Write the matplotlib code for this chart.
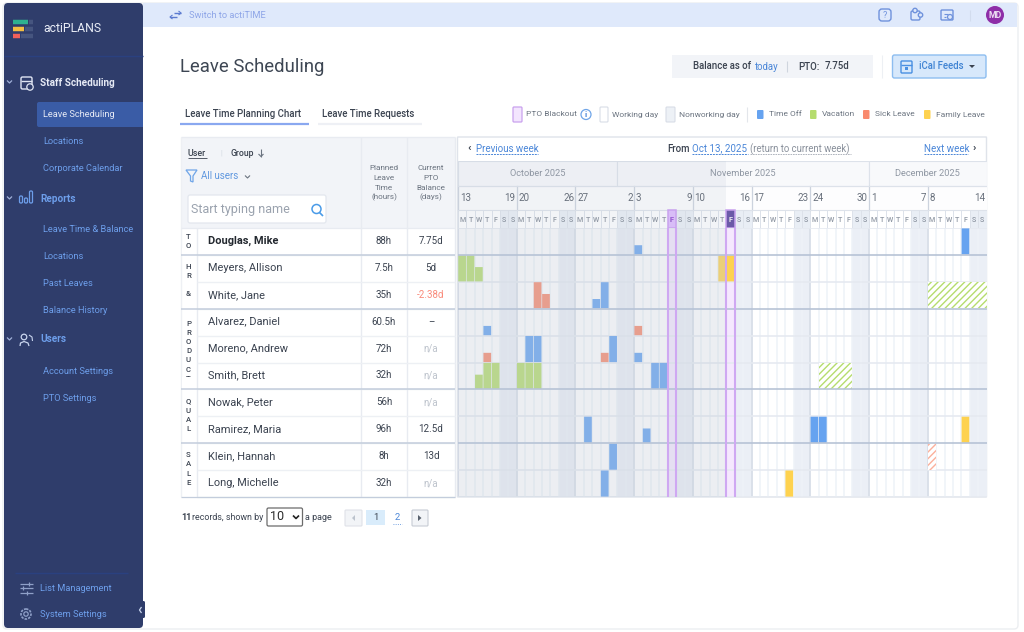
import matplotlib
matplotlib.use('Agg')
import matplotlib.pyplot as plt
from matplotlib.patches import Rectangle, FancyBboxPatch, Circle, Polygon

plt.rcParams['font.family'] = ['Roboto', 'DejaVu Sans']
plt.rcParams['hatch.linewidth'] = 1.0

# Table data
employees = ['Douglas, Mike', 'Meyers, Allison', 'White, Jane', 'Alvarez, Daniel', 'Moreno, Andrew',
             'Smith, Brett', 'Nowak, Peter', 'Ramirez, Maria', 'Klein, Hannah', 'Long, Michelle']
planned = ['88h', '7.5h', '35h', '60.5h', '72h', '32h', '56h', '96h', '8h', '32h']
balance = ['7.75d', '5d', '-2.38d', '–', 'n/a', 'n/a', 'n/a', '12.5d', '13d', 'n/a']
groups = ['TO', 'HR &', 'PRODUCT', 'QUAL', 'SALE']
group_sizes = [1, 2, 3, 2, 2]

# Calendar labels, the chart starts on Monday Oct 13 2025
months = ['October 2025', 'November 2025', 'December 2025']
month_days = [19, 30, 14]
week_starts = [13, 20, 27, 3, 10, 17, 24, 1, 8]
week_ends = [19, 26, 2, 9, 16, 23, 30, 7, 14]
weekday_letters = list('MTWTFSS') * 9
blackout_days = [25, 32]
today = 32

# Leave records: (row, day from Oct 13, hours)
time_off = [(0, 21, 3), (0, 60, 8), (2, 16, 3), (2, 17, 8), (3, 3, 3), (4, 8, 8), (4, 9, 8),
            (4, 18, 8), (4, 21, 3), (5, 23, 8), (5, 24, 8), (7, 15, 8), (7, 22, 4.5),
            (7, 42, 8), (7, 43, 8), (8, 18, 8), (9, 17, 8)]
vacation = [(1, 0, 8), (1, 1, 8), (1, 2, 4.5), (5, 2, 4.5), (5, 3, 8), (5, 4, 8),
            (5, 7, 8), (5, 8, 8), (5, 9, 8)]
sick_leave = [(2, 9, 8), (2, 10, 4.5), (3, 21, 3), (4, 3, 3), (4, 17, 3)]
family_leave = [(1, 31, 8), (1, 32, 8), (7, 60, 8), (9, 39, 8)]
# planned (not yet approved) leave, drawn hatched
vacation_planned = [(2, d, 8) for d in [56, 57, 58, 59, 60, 61, 62]] + [(5, d, 8) for d in [43, 44, 45, 46]]
sick_planned = [(8, 56, 8)]

BLUE = '#66a3f0'
GREEN = '#b5dc6e'
RED = '#f98a6e'
YELLOW = '#fed24f'
INK = '#3b4350'
GREY = '#6b7480'
LINK = '#4a86d8'
NAV = '#6d9eea'

W, H = 1024, 632
fig = plt.figure(figsize=(W / 100, H / 100), dpi=100, facecolor='white')


def px_axes(x0, y0, x1, y1, zorder):
    a = fig.add_axes([x0 / W, 1 - y1 / H, (x1 - x0) / W, (y1 - y0) / H], zorder=zorder)
    a.axis('off')
    return a


ui = px_axes(0, 0, W, H, 1)
ui.set_xlim(0, W)
ui.set_ylim(H, 0)


def txt(x, y, s, size=7, color=INK, weight='normal', ha='left', **kw):
    # baseline sits a bit high with va=center, push everything down one pixel
    return ui.text(x, y + 1, s, fontsize=size, color=color, fontweight=weight, ha=ha, va='center', **kw)


def box(x0, y0, x1, y1, color, ec='none', lw=0, z=1):
    ui.add_patch(Rectangle((x0, y0), x1 - x0, y1 - y0, fc=color, ec=ec, lw=lw, zorder=z))


def rbox(x0, y0, x1, y1, color, ec='none', lw=0, r=2, z=1):
    ui.add_patch(FancyBboxPatch((x0 + r, y0 + r), x1 - x0 - 2 * r, y1 - y0 - 2 * r,
                                boxstyle=f'round,pad={r}', fc=color, ec=ec, lw=lw, zorder=z))


def line(xs, ys, color, lw=1.0, ls='-', z=2):
    ui.plot(xs, ys, color=color, lw=lw, ls=ls, zorder=z, solid_capstyle='butt')


# Window frame, sidebar and top bar
rbox(3, 3, 1018, 629, 'white', ec='#eceef1', lw=1, r=4, z=0)
rbox(4, 3, 143, 628, '#2f3d6b', r=4)
box(143, 3, 1017, 27, '#dfe9fb')

# Logo
for y, c, w in [(22, '#2fb290', 15), (29, '#f5bf42', 11), (36, '#f2605a', 7)]:
    line([14 + w, 33], [y, y], '#46557f', lw=3.2)
    line([13, 13 + w], [y, y], c, lw=3.2)
txt(43, 28, 'actiPLANS', 8.8, '#e8ecf6')
line([4, 143], [56, 56], '#2a4180', 1)

# Sidebar sections
rbox(37, 102, 150, 127, '#3a5ca6', r=2)
box(143, 27, 150, 140, 'white', z=1)
for x, y, s, c in [(40, 82, 'Staff Scheduling', '#e6eaf5'), (40, 198, 'Reports', NAV), (40, 339, 'Users', NAV)]:
    txt(x, y - 0.5, s, 7.2, c, 'bold')
    line([7, 9.5, 12], [y - 1.5, y + 1, y - 1.5], '#9fb0d8', 0.9)
sub_items = ['Leave Scheduling', 'Locations', 'Corporate Calendar', 'Leave Time & Balance', 'Locations',
             'Past Leaves', 'Balance History', 'Account Settings', 'PTO Settings']
sub_y = [114, 141, 168, 229, 256, 283, 310, 371, 398]
for i, (s, y) in enumerate(zip(sub_items, sub_y)):
    txt(43, y - 0.5, s, 6.7, '#e6eaf5' if i == 0 else NAV)

# Sidebar icons
rbox(21, 77, 32, 89, 'none', ec='#dfe5f3', lw=1, r=1.5, z=3)
line([21, 32], [81, 81], '#dfe5f3', 1, z=3)
ui.add_patch(Circle((30, 87), 3.2, fc='#2f3d6b', ec='#dfe5f3', lw=0.9, zorder=4))
for x, y0 in [(21, 196), (26, 198), (31, 191)]:
    rbox(x - 1.5, y0, x + 1.5, 203, 'none', ec=NAV, lw=0.9, r=1.2, z=3)
ui.add_patch(Circle((24, 337), 2.8, fc='none', ec='#c9d5ee', lw=0.9, zorder=3))
line([20, 20.5, 24, 28, 29], [346, 343, 341.5, 343, 346], '#c9d5ee', 0.9, z=3)
line([29, 32, 32.5], [335, 337, 341], '#c9d5ee', 0.8, z=3)
line([15, 128], [573, 573], '#2a4180', 1)
txt(40, 587.5, 'List Management', 6.7, NAV)
txt(40, 613.5, 'System Settings', 6.7, NAV)
for y, k in [(584, 29), (588, 23), (593, 27)]:
    line([20, 33], [y, y], '#8fa0c8', 0.9)
    line([k, k], [y - 2, y + 2], '#8fa0c8', 0.9)
ui.add_patch(Circle((26, 614), 5, fc='none', ec='#8fa0c8', lw=1.2, ls=(0, (1.5, 0.7)), zorder=3))
ui.add_patch(Circle((26, 614), 2.2, fc='none', ec='#8fa0c8', lw=0.9, zorder=3))
rbox(135, 601, 145, 618, '#2f3d6b', r=1.5, z=3)
line([141.5, 139.5, 141.5], [607, 610, 613], '#c9d5ee', 0.9, z=4)

# Top bar contents
txt(189, 14, 'Switch to actiTIME', 6.7, '#8fa6e8')
line([174, 181], [13, 13], '#5c7bd0', 1)
line([170, 177], [17, 17], '#5c7bd0', 1)
line([178.5, 181, 178.5], [11, 13, 15], '#5c7bd0', 0.8)
line([172.5, 170, 172.5], [15, 17, 19], '#5c7bd0', 0.8)
rbox(879, 9, 891, 21, 'none', ec='#6f92dc', lw=1, r=3, z=3)
txt(885, 14, '?', 6.5, '#6f92dc', ha='center', zorder=4)
# puzzle piece
rbox(911, 11, 920, 20, 'none', ec='#6f92dc', lw=1, r=1.5, z=3)
ui.add_patch(Circle((915, 10.5), 2.2, fc='#dfe9fb', ec='#6f92dc', lw=1, zorder=4))
ui.add_patch(Circle((920.5, 15), 2.2, fc='#dfe9fb', ec='#6f92dc', lw=1, zorder=4))
rbox(941, 10, 953, 20, 'none', ec='#6f92dc', lw=1, r=1, z=3)
line([943.5, 948], [13.5, 13.5], '#6f92dc', 0.8, z=3)
line([943.5, 946], [16.5, 16.5], '#6f92dc', 0.8, z=3)
ui.add_patch(Circle((950, 17), 2.5, fc='#dfe9fb', ec='#6f92dc', lw=0.9, zorder=4))
line([970, 970], [10, 21], '#d2dcee', 0.8)
ui.add_patch(Circle((995, 15), 9, fc='#8e2ea8', zorder=3))
txt(995, 14, 'MD', 6.3, '#ecdcf2', 'bold', ha='center', zorder=4)

# Page title and balance
txt(180, 66, 'Leave Scheduling', 13.3, '#3d4653')
box(672, 55, 873, 78, '#f2f4f8')
txt(693, 65, 'Balance as of', 6.9, INK, 'medium', zorder=3)
txt(755, 66, 'today', 6.9, LINK, zorder=3)
line([787, 787], [61, 72], '#cfd5de', 0.8, z=3)
txt(798, 66, 'PTO:', 6.9, INK, 'medium', zorder=3)
txt(825, 65, '7.75d', 6.9, INK, 'medium', zorder=3)
line([882, 882], [55, 78], '#edf0f4', 0.8)
rbox(892.5, 55, 986, 78, '#d7e8fb', ec='#8dbdf0', lw=1, r=2)
rbox(901, 61, 912, 73, 'none', ec='#4a90e2', lw=1, r=1, z=3)
line([901, 912], [64.5, 64.5], '#4a90e2', 1, z=3)
box(905, 67, 908, 70, '#4a90e2', z=3)
txt(919, 65, 'iCal Feeds', 6.9, '#3f83d3', 'medium', zorder=3)
ui.add_patch(Polygon([[969, 65], [975, 65], [972, 68]], fc=INK, zorder=3))

# Tabs
txt(185, 113, 'Leave Time Planning Chart', 6.9, INK, 'medium')
line([180, 309], [124, 124], '#8aa8f0', 1.6)
txt(322, 113, 'Leave Time Requests', 6.9, INK, 'medium')
line([318, 422], [124, 124], '#eef0f5', 1.6)

# Legend
rbox(513, 107, 522, 122, '#f3e5fe', ec='#c9a2ee', lw=0.9, r=1)
txt(526, 113.5, 'PTO Blackout', 6, GREY)
ui.add_patch(Circle((586, 114.5), 5, fc='white', ec='#6fa5e8', lw=0.9, zorder=3))
txt(586, 113.5, 'i', 6, '#4a86d8', 'bold', ha='center', zorder=4)
rbox(600, 107, 608, 122, 'white', ec='#d8dde6', lw=0.8, r=1)
txt(612, 113.5, 'Working day', 6, GREY)
rbox(666, 107, 675, 122, '#edf1f6', ec='#d8dde6', lw=0.8, r=1)
txt(679, 113.5, 'Nonworking day', 6, GREY)
line([747, 747], [107, 122], '#e3e6eb', 0.8)
for x, c, s in [(757, BLUE, 'Time Off'), (810, GREEN, 'Vacation'), (863, RED, 'Sick Leave'), (924, YELLOW, 'Family Leave')]:
    rbox(x, 110, x + 6.5, 119, c, r=1)
    txt(x + 12, 113.5, s, 6, GREY)

# Left table
box(181, 137, 455, 228, '#f2f4f8')
box(181, 228, 455, 497, 'white')
line([181, 455], [137, 137], '#e8ebf1', 1)
for x in [361, 407]:
    line([x, x], [137, 497], '#e8ebf1', 1)
line([196.5, 196.5], [228, 497], '#e8ebf1', 1)
line([455, 455], [137, 497], '#e8ebf1', 1)
line([181, 181], [137, 497], '#eef0f4', 1)
txt(188, 152, 'User', 6.4, INK, 'medium')
line([188, 207], [158, 158], INK, 0.6)
txt(220, 152, '|', 5.5, '#cfd5de')
txt(230.5, 152, 'Group', 6.2, INK, 'medium')
line([261, 261], [149, 156.5], GREY, 0.8)
line([258.5, 261, 263.5], [154, 156.5, 154], GREY, 0.8)
ui.add_patch(Polygon([[186, 170], [197, 170], [193, 176], [193, 182], [190.5, 181], [190.5, 176]],
                     fc='none', ec='#6fa5e8', lw=0.9, zorder=3))
txt(201, 175, 'All users', 7, '#5f97df')
line([245, 247.5, 250], [175.5, 178, 175.5], GREY, 0.8)
rbox(188, 195, 326, 223, 'white', ec='#e3e7ee', lw=0.9, r=2)
txt(191, 208.5, 'Start typing name', 9, '#9aa2ae', zorder=3)
ui.add_patch(Circle((316.5, 209), 4.5, fc='none', ec='#4a9be8', lw=1.1, zorder=3))
line([319.5, 323], [212.5, 216], '#4a9be8', 1.2, z=3)
for x, words in [(384, ['Planned', 'Leave', 'Time', '(hours)']), (431, ['Current', 'PTO', 'Balance', '(days)'])]:
    for k, w in enumerate(words):
        txt(x, 166.5 + k * 10, w, 5.9, GREY, ha='center')

row_h = 26.9
row_lines = [228 + row_h * i for i in range(11)]
for i, name in enumerate(employees):
    ym = row_lines[i] + row_h / 2 - 1.5
    txt(208, ym, name, 7.9, '#23282f' if i == 0 else INK, 'bold' if i == 0 else 'normal')
    txt(384, ym, planned[i], 7, INK, ha='center')
    b = balance[i]
    c = '#f98a7a' if b.startswith('-') else ('#bdc3cc' if b == 'n/a' else INK)
    txt(431, ym, b, 7, c, ha='center')
    line([197, 455], [row_lines[i + 1]] * 2, '#edf0f4', 1)

# Group column, the letters stand one under another and get cut off at the row end
row = 0
for g, n in zip(groups, group_sizes):
    y_top = row_lines[row]
    y_end = row_lines[row + n]
    y0 = y_top + (8 if n == 1 else 11 if n == 2 else 14)
    for k, ch in enumerate(g):
        txt(188.5, y0 + k * 9.2, ch, 5.6, INK, 'medium', ha='center')
    if n == 1:
        box(182, y_end - 7, 196, y_end - 0.5, 'white', z=4)
    if n == 3:
        box(182, y_end - 12, 196, y_end - 0.5, 'white', z=4)
    row += n
for i in [0, 1, 3, 6, 8, 10]:
    col = '#c3cddc' if i else '#e8ebf1'
    line([181, 455], [row_lines[i]] * 2, col, 1.1 if i not in (0, 10) else 0.9, z=5)

# Pager
txt(181, 516, '11', 6.5, INK, 'bold')
txt(192, 516, 'records, shown by', 6.4, INK)
rbox(267, 508, 302.5, 526, 'white', ec='#6b6b6b', lw=0.9, r=1.5)
txt(270, 516, '10', 9, '#2b2b2b', zorder=3)
line([293, 296, 299], [515.5, 518.5, 515.5], '#222222', 1.2, z=3)
txt(305, 516, 'a page', 6.5, INK)
rbox(345, 510, 362, 526, '#f2f4f7', ec='#dfe2e8', lw=0.8, r=1)
ui.add_patch(Polygon([[355, 515], [355, 521], [352, 518]], fc='#bcc3cd', zorder=3))
box(366, 510, 385, 525, '#d9ecfb')
txt(375.5, 516.5, '1', 6.8, INK, ha='center', zorder=3)
txt(397.5, 516.5, '2', 6.8, LINK, ha='center')
line([393, 402], [523.5, 523.5], LINK, 0.6, ls=':')
rbox(412, 510, 428, 526, '#f2f4f7', ec='#c7ccd4', lw=0.8, r=1)
ui.add_patch(Polygon([[418, 515], [418, 521], [421.5, 518]], fc='#59616d', zorder=3))

# Week navigation row
box(458, 137, 987, 161, 'white')
txt(467, 147.5, '‹', 8, INK, 'bold')
txt(476, 147.5, 'Previous week', 7, LINK)
line([476, 538], [154, 154], LINK, 0.7, ls=(0, (2, 1)))
txt(667, 148, 'From', 6.9, INK, 'medium')
txt(692, 147.5, 'Oct 13, 2025', 7, LINK)
line([692, 748], [154, 154], LINK, 0.7, ls=(0, (2, 1)))
txt(750, 148, '(return to current week)', 6.9, '#8a919c')
line([750, 851], [154, 154], '#a5abb5', 0.6, ls=(0, (2, 1)))
txt(923.5, 147.5, 'Next week', 7, LINK)
line([923.5, 968], [154, 154], LINK, 0.7, ls=(0, (2, 1)))
txt(973, 147.5, '›', 8, INK, 'bold')
rbox(457.5, 137, 986.5, 497, 'none', ec='#dfe3ea', lw=1, r=0.5, z=8)

# Calendar header, same day scale as the chart below it
n_days = len(weekday_letters)
hdr_bottom = 2.73
hdr = px_axes(458, 161, 986.5, 228, 2)
hdr.set_xlim(0, n_days)
hdr.set_ylim(hdr_bottom, 0)
hdr.margins(0)
for d, letter in enumerate(weekday_letters):
    weekend = letter == 'S'
    hdr.bar(d, hdr_bottom - 2, width=1, bottom=2, align='edge', color='#e9eef5' if weekend else 'white', ec='#dde2ea', lw=0.7, zorder=1)
    hdr.text(d + 0.5, 2.4, letter, fontsize=5.1, color='#8f97a3', ha='center', va='center', fontweight='medium', zorder=6)
hdr.bar(0, 1, width=n_days, bottom=1, align='edge', color='#fdfdfe', zorder=1)
start = 0
for m, nd in zip(months, month_days):
    hdr.bar(start, 1, width=nd, bottom=0, align='edge', color='#f8f9fb', ec='#dde2ea', lw=0.8, zorder=1)
    hdr.text(start + nd / 2, 0.5, m, fontsize=6.7, color='#8f97a3', ha='center', va='center', zorder=6)
    start += nd
for w, (a, b) in enumerate(zip(week_starts, week_ends)):
    x = w * 7
    hdr.plot([x, x], [1, 2], color='#ccd3de', lw=0.9, zorder=2)
    hdr.text(x + 0.2, 1.52, str(a), fontsize=7, color='#68707c', ha='left', va='center', zorder=6)
    hdr.text(x + 6.85, 1.52, str(b), fontsize=7, color='#68707c', ha='right', va='center', zorder=6)
hdr.plot([0, n_days], [1, 1], color='#dde2ea', lw=0.8, zorder=2)
hdr.plot([0, n_days], [2, 2], color='#dde2ea', lw=0.8, zorder=2)
hdr.bar(0, hdr_bottom, width=today, bottom=0, align='edge', color='#c2cbd8', alpha=0.2, zorder=4)
for d in blackout_days:
    hdr.bar(d, hdr_bottom - 2, width=1, bottom=2, align='edge', color='#d8bdf7' if d < today else '#6b5aa8', ec='#c9a2ee', lw=1.1, zorder=5)
    hdr.text(d + 0.5, 2.4, 'F', fontsize=5.1, color='#a35fe0' if d < today else '#e8e4f4', ha='center', va='center', fontweight='bold', zorder=7)

# Chart body, one unit on the y axis is one working day of 8 hours
n_rows = len(employees)
ax = px_axes(458, 228, 986.5, 497, 3)
ax.set_xlim(0, n_days)
ax.set_ylim(n_rows, 0)
for d, letter in enumerate(weekday_letters):
    if letter == 'S':
        ax.bar(d, n_rows, width=1, bottom=0, align='edge', color='#ebeff6', zorder=1)
for d in range(n_days):
    ax.plot([d, d], [0, n_rows], color='#eef2f8', lw=1.1, zorder=2)
for d in blackout_days:
    ax.bar(d, n_rows, width=1, bottom=0, align='edge', color='#f5e8fe', zorder=2)
for w in range(9):
    ax.plot([w * 7, w * 7], [0, n_rows], color='#d5dbe6', lw=1.1, zorder=2)
for r in range(n_rows + 1):
    if r in (1, 3, 6, 8):
        ax.plot([0, n_days], [r, r], color='#b7c3d6', lw=1.2, zorder=6)
    else:
        ax.plot([0, n_days], [r, r], color='#e6eaf1', lw=1.2, zorder=2)


def draw_leave(records, color):
    for r, d, hours in records:
        bars = ax.bar(d + 0.03, hours / 8 - 0.03, width=0.92, bottom=r + 1 - hours / 8 + 0.015, align='edge', color=color, lw=0, zorder=4)
        for b in bars:
            b.set_snap(False)


def draw_planned(records, color):
    for r, d, hours in records:
        ax.bar(d, hours / 8 - 0.03, width=1, bottom=r + 1 - hours / 8 + 0.015, align='edge', facecolor='white',
               edgecolor=color, hatch='/////', lw=0, zorder=4)


draw_leave(time_off, BLUE)
draw_leave(vacation, GREEN)
draw_leave(sick_leave, RED)
draw_leave(family_leave, YELLOW)
draw_planned(vacation_planned, GREEN)
draw_planned(sick_planned, '#fbb09c')

# Past days are washed out
ax.bar(0, n_rows, width=today, bottom=0, align='edge', color='#c2cbd8', alpha=0.31, zorder=5)
# Blackout days have a purple outline
for d in blackout_days:
    ax.plot([d, d], [0, n_rows], color='#cfa8f2', lw=1.5, zorder=7)
    ax.plot([d + 1, d + 1], [0, n_rows], color='#cfa8f2', lw=1.5, zorder=7)

fig.savefig('out.png', dpi=100)
